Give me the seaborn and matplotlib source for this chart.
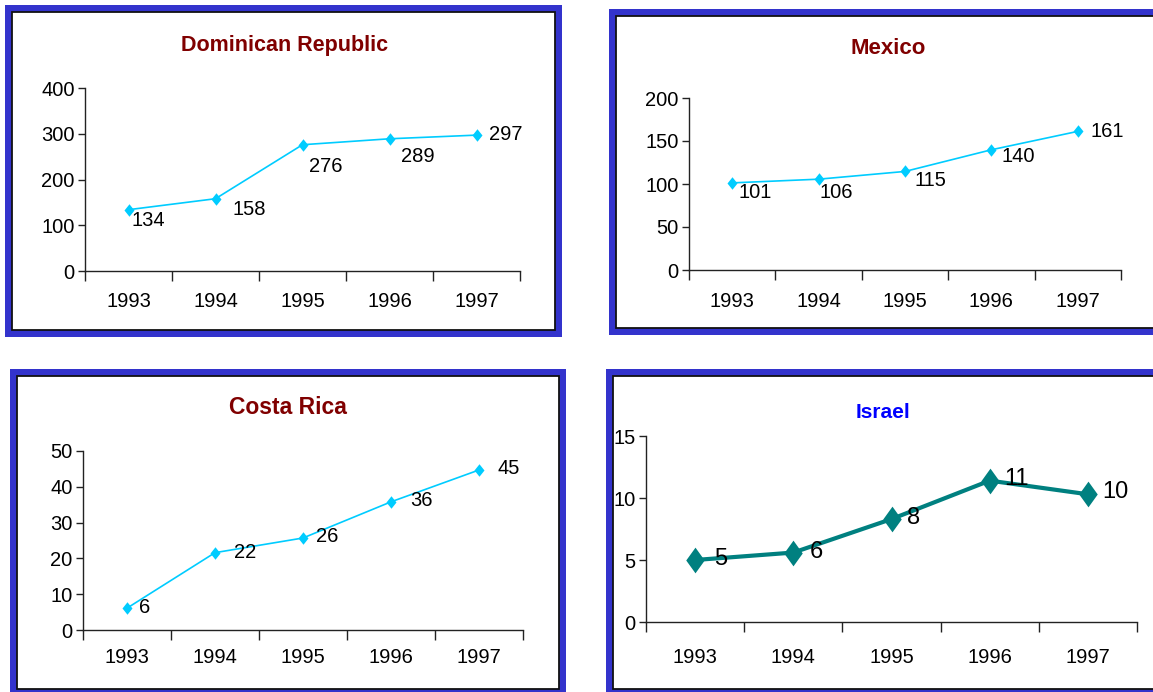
import numpy as np
import matplotlib
matplotlib.use("Agg")
import matplotlib.pyplot as plt
from matplotlib.patches import Rectangle
from matplotlib.ticker import FixedLocator
import seaborn as sns

# ---- data -------------------------------------------------------------
years = ["1993", "1994", "1995", "1996", "1997"]

dominican_republic = [134, 158, 276, 289, 297]
mexico = [101.3, 105.6, 114.6, 139.8, 161.2]
costa_rica = [6.1, 21.6, 25.7, 35.8, 44.7]
israel = [5.0, 5.6, 8.3, 11.4, 10.3]

titles = ["Dominican Republic", "Mexico", "Costa Rica", "Israel"]
y_max = [400, 200, 50, 15]
y_step = [100, 50, 10, 5]

# ---- canvas -----------------------------------------------------------
W, H = 1153, 692
sns.set_theme(style="ticks")
plt.rcParams["font.family"] = ["Liberation Sans", "DejaVu Sans"]
plt.rcParams["axes.edgecolor"] = "black"
plt.rcParams["xtick.color"] = "black"
plt.rcParams["ytick.color"] = "black"

fig = plt.figure(figsize=(W / 100, H / 100), dpi=100)
fig.patch.set_facecolor("white")

BORDER_BLUE = "#3333cc"
SANS = ["Liberation Sans", "DejaVu Sans"]


def fig_box(x0, y0, x1, y1):
    """Pixel box (top-left origin) -> figure fraction [l, b, w, h]."""
    return [x0 / W, 1 - y1 / H, (x1 - x0) / W, (y1 - y0) / H]


def draw_frame(box, band=7):
    x0, y0, x1, y1 = box
    l, b, w, h = fig_box(x0, y0, x1, y1)
    fig.patches.append(Rectangle((l, b), w, h, transform=fig.transFigure,
                                 facecolor=BORDER_BLUE, edgecolor="none",
                                 zorder=-2))
    l, b, w, h = fig_box(x0 + band, y0 + band, x1 - band, y1 - band)
    fig.patches.append(Rectangle((l, b), w, h, transform=fig.transFigure,
                                 facecolor="white", edgecolor="#111111",
                                 linewidth=1.3, zorder=-1))


def diamond(ratio):
    return [(0, 1), (ratio, 0), (0, -1), (-ratio, 0), (0, 1)]


panels = [
    dict(values=dominican_republic,
         frame=(5, 5, 562, 337), axes=(85, 88, 520, 271),
         title_xy=(285, 45), title_size=15.5, title_color="#800000",
         color="#00ccff", lw=1.2, msize=9, ratio=0.8,
         tick_size=14.5, label_size=14.5, xpad=15,
         offsets=[(20, -11), (34, -11), (23, -22), (28, -18), (29, 1)]),
    dict(values=mexico,
         frame=(609, 9, 1165, 335), axes=(689, 98, 1121, 270),
         title_xy=(888, 48), title_size=16, title_color="#800000",
         color="#00ccff", lw=1.2, msize=9, ratio=0.8,
         tick_size=14.5, label_size=14.5, xpad=15.5,
         offsets=[(23, -10), (18, -13), (25, -9), (27, -7), (29, 0)]),
    dict(values=costa_rica,
         frame=(10, 369, 566, 696), axes=(83, 451, 523, 630),
         title_xy=(288, 407), title_size=16.5, title_color="#800000",
         color="#00ccff", lw=1.2, msize=9, ratio=0.8,
         tick_size=14.5, label_size=14.5, xpad=13,
         offsets=[(18, 1), (30, 0), (24, 1), (30, 1), (30, 1)]),
    dict(values=israel,
         frame=(606, 369, 1165, 696), axes=(646, 436, 1137, 622),
         title_xy=(883, 412), title_size=15, title_color="#0000ff",
         color="#008080", lw=3.0, msize=18.5, ratio=0.72,
         tick_size=14.5, label_size=17, xpad=18.5,
         offsets=[(26, 1), (23, 1), (22, 1), (27, 2), (27, 2)]),
]

for p, title, top, step in zip(panels, titles, y_max, y_step):
    draw_frame(p["frame"])

    ax = fig.add_axes(fig_box(*p["axes"]))
    ax.set_facecolor("none")

    pos = np.arange(len(years))
    sns.lineplot(x=pos, y=p["values"], ax=ax, color=p["color"],
                 linewidth=p["lw"], marker=diamond(p["ratio"]),
                 markersize=p["msize"], markeredgewidth=0,
                 markerfacecolor=p["color"], legend=False)

    ax.set_xlim(-0.5, len(years) - 0.5)
    ax.set_ylim(0, top)
    ax.set_yticks(np.arange(0, top + step / 2, step))
    ax.set_xticks(pos)
    ax.set_xticklabels(years)
    ax.xaxis.set_minor_locator(FixedLocator(np.arange(-0.5, len(years), 1)))
    ax.set_xlabel("")
    ax.set_ylabel("")

    sns.despine(ax=ax)
    for side in ("left", "bottom"):
        ax.spines[side].set_linewidth(1.0)
        ax.spines[side].set_color("#222222")

    ax.tick_params(axis="y", which="major", length=5, width=1, pad=2.5,
                   labelsize=p["tick_size"], color="#222222")
    ax.tick_params(axis="x", which="major", length=0, pad=p["xpad"],
                   labelsize=p["tick_size"])
    ax.tick_params(axis="x", which="minor", length=7, width=1,
                   direction="out", color="#222222")
    for lab in ax.get_xticklabels() + ax.get_yticklabels():
        lab.set_family(SANS)

    for i, (v, off) in enumerate(zip(p["values"], p["offsets"])):
        ax.annotate(f"{v:.0f}", (i, v), xytext=off,
                    textcoords="offset pixels", ha="center", va="center",
                    fontsize=p["label_size"], family=SANS,
                    color="black", annotation_clip=False)

    tx, ty = p["title_xy"]
    fig.text(tx / W, 1 - ty / H, title, ha="center", va="center",
             fontsize=p["title_size"], fontweight="bold",
             color=p["title_color"], family=SANS)

fig.savefig("out.png", dpi=100, facecolor="white")
